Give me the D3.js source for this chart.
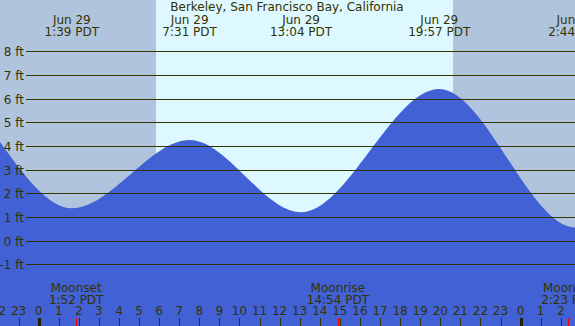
<!DOCTYPE html>
<html>
<head>
<meta charset="utf-8">
<script src="https://cdn.jsdelivr.net/npm/d3@7"></script>
<style>
  html, body { margin: 0; padding: 0; background: #fff; }
  svg { display: block; font-family: "DejaVu Sans", sans-serif; }
</style>
</head>
<body>
<svg id="chart" width="575" height="326"></svg>
<script>
// hours are counted from Jun 29 00:00 PDT
const title = 'Berkeley, San Francisco Bay, California';

// tide curve: left edge value, highs/lows, then a point just past the right edge
const tideHours = [-1.93, 1.65, 7.517, 13.067, 19.95, 26.733, 28.0];
const tideFeet = [4.17, 1.37, 4.25, 1.20, 6.40, 0.56, 0.75];

// labelled extremes along the top
const extremeHours = [1.65, 7.517, 13.067, 19.95, 26.733];
const extremeDays = ['Jun 29', 'Jun 29', 'Jun 29', 'Jun 29', 'Jun 30'];
const extremeTimes = ['1:39 PDT', '7:31 PDT', '13:04 PDT', '19:57 PDT', '2:44 PDT'];

// daylight
const sunriseHour = 5.83;
const sunsetHour = 20.63;

// moon events
const moonHours = [1.867, 14.9, 26.383];
const moonNames = ['Moonset', 'Moonrise', 'Moonset'];
const moonTimes = ['1:52 PDT', '14:54 PDT', '2:23 PDT'];

const feetTicks = [-1, 0, 1, 2, 3, 4, 5, 6, 7, 8];
const hourTicks = d3.range(-2, 27);

const W = 575, H = 326;
const ink = '#333300';

const x = d3.scaleLinear().domain([-1.927, 26.71]).range([0, W]);
const y = d3.scaleLinear().domain([0, 8]).range([240.7, 51.1]);

const svg = d3.select('#chart');

// night / day background
svg.append('rect').attr('x', 0).attr('y', 0).attr('width', W).attr('height', H).attr('fill', '#b0c4de');
svg.append('rect')
  .attr('x', Math.round(x(sunriseHour)))
  .attr('y', 0)
  .attr('width', Math.round(x(sunsetHour)) - Math.round(x(sunriseHour)))
  .attr('height', H)
  .attr('fill', '#def8ff');

// water
const tide = tideHours.map((h, i) => ({ h, ft: tideFeet[i] }));
svg.append('path')
  .datum(tide)
  .attr('fill', '#4161d4')
  .attr('d', d3.area()
    .x(d => x(d.h))
    .y0(H)
    .y1(d => y(d.ft))
    .curve(d3.curveMonotoneX));

// feet grid + labels
const grid = svg.append('g');
feetTicks.forEach(f => {
  const yy = Math.round(y(f)) + 0.5;
  grid.append('line')
    .attr('x1', 26).attr('x2', W)
    .attr('y1', yy).attr('y2', yy)
    .attr('stroke', ink).attr('stroke-width', 1);
  grid.append('text')
    .attr('x', 24).attr('y', yy + 4.5)
    .attr('text-anchor', 'end')
    .attr('font-size', 12)
    .attr('fill', ink)
    .text(f + ' ft');
});

// title
svg.append('text')
  .attr('x', 287).attr('y', 11)
  .attr('text-anchor', 'middle')
  .attr('font-size', 12)
  .attr('fill', ink)
  .text(title);

// high/low labels
extremeHours.forEach((h, i) => {
  const g = svg.append('g').attr('text-anchor', 'middle').attr('font-size', 12).attr('fill', ink);
  g.append('text').attr('x', x(h)).attr('y', 24).text(extremeDays[i]);
  g.append('text').attr('x', x(h)).attr('y', 36).text(extremeTimes[i]);
});

// moon labels
moonHours.forEach((h, i) => {
  const g = svg.append('g').attr('text-anchor', 'middle').attr('font-size', 12).attr('fill', ink);
  g.append('text').attr('x', x(h)).attr('y', 292).text(moonNames[i]);
  g.append('text').attr('x', x(h)).attr('y', 303.5).text(moonTimes[i]);
});

// hour axis
const axis = svg.append('g');
hourTicks.forEach(h => {
  const xx = Math.round(x(h)) + 0.5;
  const midnight = h % 24 === 0;
  axis.append('line')
    .attr('x1', xx).attr('x2', xx)
    .attr('y1', 318).attr('y2', H)
    .attr('stroke', midnight ? '#222200' : ink)
    .attr('stroke-width', midnight ? 3 : 1);
  axis.append('text')
    .attr('x', x(h)).attr('y', 314.5)
    .attr('text-anchor', 'middle')
    .attr('font-size', 12)
    .attr('fill', ink)
    .text(((h % 24) + 24) % 24);
});

// moon event ticks
moonHours.forEach(h => {
  const xx = Math.round(x(h)) + 0.5;
  svg.append('line')
    .attr('x1', xx).attr('x2', xx)
    .attr('y1', 318).attr('y2', H)
    .attr('stroke', '#ff0000').attr('stroke-width', 1);
});
</script>
</body>
</html>
